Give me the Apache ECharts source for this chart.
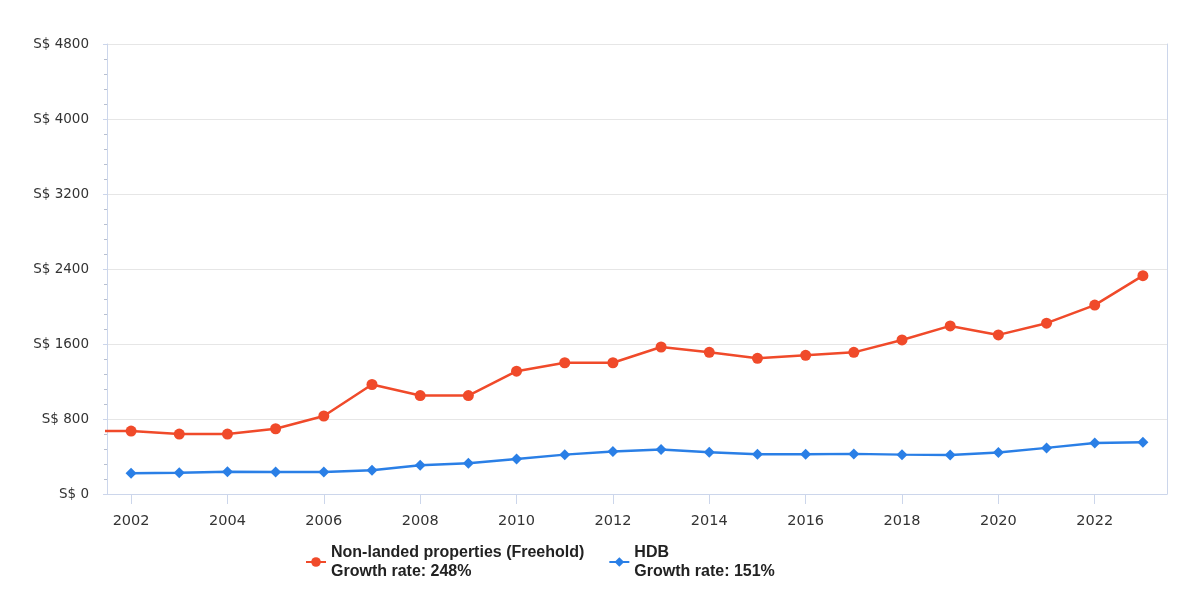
<!DOCTYPE html>
<html>
<head>
<meta charset="utf-8">
<script src="https://cdn.jsdelivr.net/npm/echarts@6/dist/echarts.min.js"></script>
<style>html,body{margin:0;padding:0;background:#fff}#c{width:1200px;height:597px}</style>
</head>
<body>
<div id="c"></div>
<script>
const years = [2001,2002,2003,2004,2005,2006,2007,2008,2009,2010,2011,2012,2013,2014,2015,2016,2017,2018,2019,2020,2021,2022,2023];
const nonLanded = [672,671,639,639,696,832,1168,1050,1050,1310,1400,1400,1568,1511,1447,1479,1511,1643,1793,1697,1822,2015,2329];
const hdbYears = [2002,2003,2004,2005,2006,2007,2008,2009,2010,2011,2012,2013,2014,2015,2016,2017,2018,2019,2020,2021,2022,2023];
const hdb = [221,227,238,235,235,253,307,328,374,420,453,474,446,425,425,428,420,417,442,492,543,553];
const xTickLabels = [2002,2004,2006,2008,2010,2012,2014,2016,2018,2020,2022];
const seriesNames = ['Non-landed properties (Freehold)', 'HDB'];
const growthRates = ['248%', '151%'];

const chart = echarts.init(document.getElementById('c'));
chart.setOption({
  animation: false,
  grid: {left: 107, right: 33, top: 44, bottom: 103},
  xAxis: {
    type: 'value', min: 2001.5, max: 2023.5,
    axisLine: {show: true, lineStyle: {color: '#ccd6eb'}},
    axisTick: {show: true, customValues: xTickLabels, length: 10, lineStyle: {color: '#ccd6eb'}},
    axisLabel: {customValues: xTickLabels, formatter: v => String(v), color: '#333', fontSize: 14.5, margin: 20, fontFamily: 'DejaVu Sans'},
    splitLine: {show: false}
  },
  yAxis: [{
    type: 'value', min: 0, max: 4800, interval: 800,
    axisLine: {show: true, lineStyle: {color: '#ccd6eb'}},
    axisTick: {show: true, length: 4, lineStyle: {color: '#ccd6eb'}},
    minorTick: {show: true, splitNumber: 5, length: 3, lineStyle: {color: '#b8c0d0'}},
    axisLabel: {formatter: v => 'S$ ' + v, color: '#333', fontSize: 13.5, margin: 18, fontFamily: 'DejaVu Sans'},
    splitLine: {show: true, lineStyle: {color: '#e6e6e6', width: 1}}
  }, {
    type: 'value', min: 0, max: 4800, position: 'right',
    axisLine: {show: true, lineStyle: {color: '#ccd6eb'}},
    axisTick: {show: false}, axisLabel: {show: false}, splitLine: {show: false}
  }],
  legend: {
    bottom: 7, left: 300, itemWidth: 20, itemHeight: 12, itemGap: 24,
    textStyle: {color: '#222', fontSize: 16, fontWeight: 'bold', fontFamily: 'Liberation Sans', lineHeight: 19, padding: [8, 0, 0, 0]},
    formatter: name => name + '\nGrowth rate: ' + growthRates[seriesNames.indexOf(name)],
    data: seriesNames
  },
  series: [{
    name: seriesNames[0], type: 'line',
    data: years.map((y, i) => [y, nonLanded[i]]),
    symbol: 'circle', symbolSize: 11,
    itemStyle: {color: '#f04a2a'},
    lineStyle: {width: 2.5, color: '#f04a2a'},
    clip: true
  }, {
    name: seriesNames[1], type: 'line',
    data: hdbYears.map((y, i) => [y, hdb[i]]),
    symbol: 'diamond', symbolSize: 11,
    itemStyle: {color: '#2a7fe6'},
    lineStyle: {width: 2.5, color: '#2a7fe6'},
    clip: true
  }]
});
</script>
</body>
</html>
